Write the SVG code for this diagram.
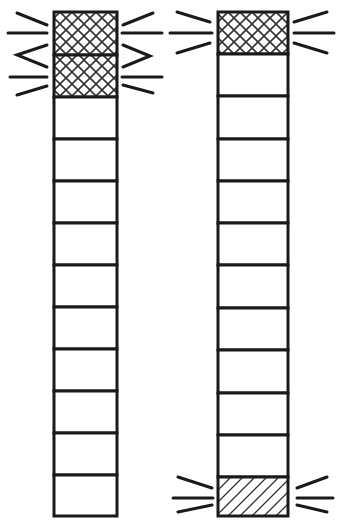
<svg xmlns="http://www.w3.org/2000/svg" width="337" height="522" viewBox="0 0 337 522">
<style>
.cell{fill:#fff;stroke:#1a1a1a;stroke-width:3}
.ray{stroke:#1a1a1a;stroke-width:3;stroke-linecap:round;fill:none}
.frame{fill:none;stroke:#1a1a1a;stroke-width:3}
</style>
<defs>
<pattern id="cross" patternUnits="userSpaceOnUse" width="12" height="12">
<rect width="12" height="12" fill="#fff"/>
<path d="M0,0L12,12M12,0L0,12" stroke="#333" stroke-width="1.6"/>
</pattern>
<pattern id="diag" patternUnits="userSpaceOnUse" width="12" height="12">
<rect width="12" height="12" fill="#fff"/>
<path d="M-3,15L15,-3M-3,3L3,-3M9,15L15,9" stroke="#333" stroke-width="1.3"/>
</pattern>
</defs>
<rect width="337" height="522" fill="#fff"/>
<g id="left-column">
<rect x="54" y="12" width="63" height="43" fill="url(#cross)" stroke="#1a1a1a" stroke-width="3"/>
<rect x="54" y="55" width="63" height="42" fill="url(#cross)" stroke="#1a1a1a" stroke-width="3"/>
<rect class="cell" x="54" y="97" width="63" height="42"/>
<rect class="cell" x="54" y="139" width="63" height="42"/>
<rect class="cell" x="54" y="181" width="63" height="42"/>
<rect class="cell" x="54" y="223" width="63" height="42"/>
<rect class="cell" x="54" y="265" width="63" height="42"/>
<rect class="cell" x="54" y="307" width="63" height="42"/>
<rect class="cell" x="54" y="349" width="63" height="42"/>
<rect class="cell" x="54" y="391" width="63" height="42"/>
<rect class="cell" x="54" y="433" width="63" height="42"/>
<rect class="cell" x="54" y="475" width="63" height="41"/>
</g>
<g id="right-column">
<rect x="218" y="12" width="70" height="42" fill="url(#cross)" stroke="#1a1a1a" stroke-width="3"/>
<rect class="cell" x="218" y="54" width="70" height="42"/>
<rect class="cell" x="218" y="96" width="70" height="43"/>
<rect class="cell" x="218" y="139" width="70" height="42"/>
<rect class="cell" x="218" y="181" width="70" height="42"/>
<rect class="cell" x="218" y="223" width="70" height="42"/>
<rect class="cell" x="218" y="265" width="70" height="43"/>
<rect class="cell" x="218" y="308" width="70" height="42"/>
<rect class="cell" x="218" y="350" width="70" height="43"/>
<rect class="cell" x="218" y="393" width="70" height="42"/>
<rect class="cell" x="218" y="435" width="70" height="42"/>
<rect x="218" y="477" width="70" height="39" fill="url(#diag)" stroke="#1a1a1a" stroke-width="3"/>
</g>
<g id="rays">
<path class="ray" d="M17,13L47,25M8,33L47,33M47,45L17,55L47,67M10,77L47,77M47,86L17,95"/>
<path class="ray" d="M123,25L153,13M122,33L162,33M123,45L150,56L123,67M122,77L162,77M123,85L153,93"/>
<path class="ray" d="M177,12L210,22M170,33L212,33M177,53L210,43"/>
<path class="ray" d="M294,22L327,12M294,33L334,33M294,43L327,53"/>
<path class="ray" d="M178,477L212,488M173,498L213,498M178,512L212,505"/>
<path class="ray" d="M297,488L327,477M297,498L333,498M297,505L327,512"/>
</g>
</svg>
